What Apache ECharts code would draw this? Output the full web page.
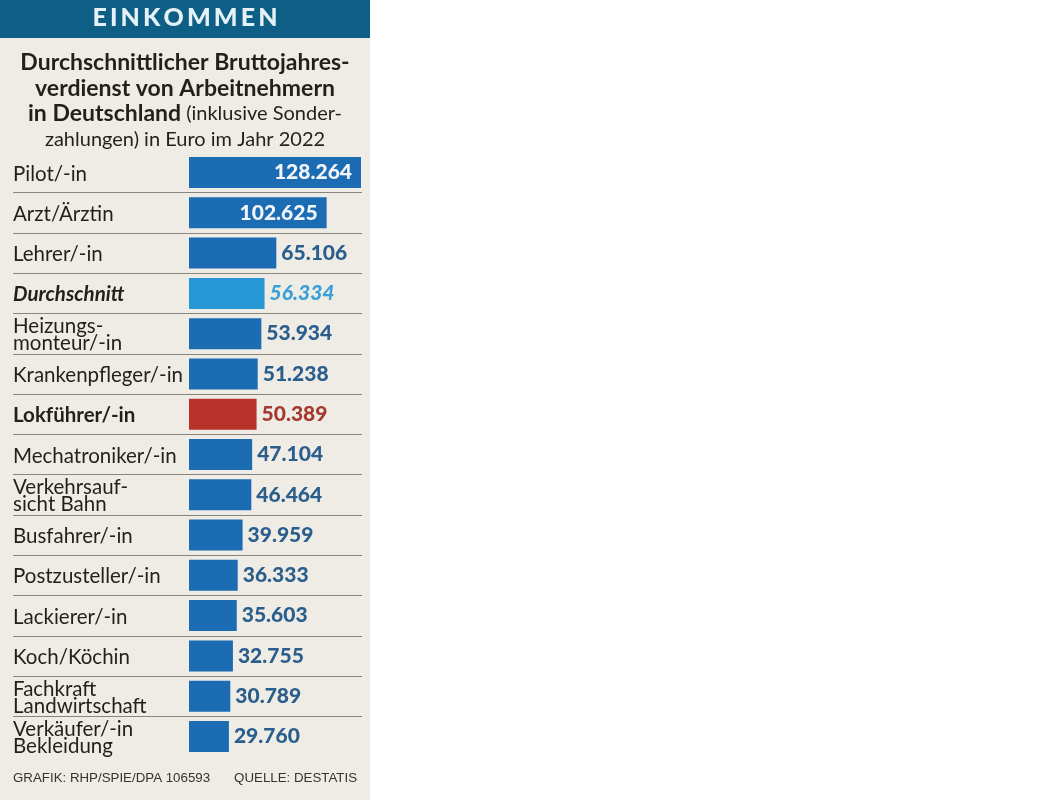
<!DOCTYPE html>
<html><head><meta charset="utf-8">
<script src="https://cdn.jsdelivr.net/npm/echarts@6/dist/echarts.min.js"></script>
<style>html,body{margin:0;padding:0;background:#fff;}#c{width:370px;height:800px;}</style>
</head><body><div id="c"></div>
<script>
const categories = ['Pilot/-in','Arzt/Ärztin','Lehrer/-in','Durchschnitt','Heizungs-\nmonteur/-in','Krankenpfleger/-in','Lokführer/-in','Mechatroniker/-in','Verkehrsauf-\nsicht Bahn','Busfahrer/-in','Postzusteller/-in','Lackierer/-in','Koch/Köchin','Fachkraft\nLandwirtschaft','Verkäufer/-in\nBekleidung'];
const values = [128264,102625,65106,56334,53934,51238,50389,47104,46464,39959,36333,35603,32755,30789,29760];
const headerText = 'EINKOMMEN';
const footerLeft = 'GRAFIK: RHP/SPIE/DPA 106593';
const footerRight = 'QUELLE: DESTATIS';

const FONT = 'Lato';
const avgName = 'Durchschnitt', lokName = 'Lokführer/-in';
const fmt = v => String(v).replace(/\B(?=(\d{3})+(?!\d))/g, '.');

const data = values.map((v, i) => {
  const name = categories[i];
  let color = '#1b6cb3', lblColor = '#2a5e8d', style = 'normal';
  if (name === avgName) { color = '#2597d4'; lblColor = '#3aa0d6'; style = 'italic'; }
  if (name === lokName) { color = '#b7322a'; lblColor = '#a5382f'; }
  const inside = v > 100000;
  return {
    value: v,
    itemStyle: { color },
    label: inside
      ? { position: 'insideRight', distance: 9, color: '#f2f6fa', fontStyle: style }
      : { position: 'right', distance: 5, color: lblColor, fontStyle: style }
  };
});

const chart = echarts.init(document.getElementById('c'));
const gridTop = 152.4, gridH = 604.2;
chart.setOption({
  backgroundColor: '#efebe5',
  animation: false,
  title: {
    left: 'center', top: 45,
    text: '{b|Durchschnittlicher Bruttojahres-}\n{b|verdienst von Arbeitnehmern}\n{b|in Deutschland} {r|(inklusive Sonder-}\n{r|zahlungen) in Euro im Jahr 2022}',
    textStyle: {
      rich: {
        b: { fontFamily: FONT, fontWeight: 'bold', fontSize: 23, color: '#231f1c', lineHeight: 25.5 },
        r: { fontFamily: FONT, fontWeight: 'normal', fontSize: 20, color: '#231f1c', lineHeight: 25.5 }
      }
    }
  },
  graphic: [
    { type: 'rect', left: 0, top: 0, shape: { width: 370, height: 38 }, style: { fill: '#0e5f86' }, z: 0 },
    { type: 'text', left: 'center', top: 5, style: { text: headerText.split('').join('\u2009'), fill: '#e4f2f8', font: '900 25px ' + FONT }, z: 1 },
    { type: 'text', left: 13, top: 772, style: { text: footerLeft, fill: '#333', font: '13.3px "Liberation Sans"' } },
    { type: 'text', right: 13, top: 772, style: { text: footerRight, fill: '#333', font: '13.3px "Liberation Sans"' } }
  ],
  grid: [
    { left: 189, width: 172, top: gridTop, height: gridH },
    { left: 13, width: 349, top: gridTop, height: gridH }
  ],
  xAxis: [
    { gridIndex: 0, type: 'value', min: 0, max: 128264, show: false },
    { gridIndex: 1, type: 'value', min: 0, max: 1, show: false }
  ],
  yAxis: [
    {
      gridIndex: 0, type: 'category', inverse: true, data: categories,
      axisLine: { show: false }, axisTick: { show: false }, splitLine: { show: false },
      axisLabel: {
        align: 'left', margin: 176, fontFamily: FONT, fontSize: 20.5, color: '#231f1c', lineHeight: 17,
        padding: [3, 0, 0, 0],
        formatter: v => v === avgName ? '{i|' + v + '}' : v === lokName ? '{b|' + v + '}' : v,
        rich: {
          i: { fontFamily: FONT, fontSize: 20.5, fontWeight: 'bold', fontStyle: 'italic', color: '#231f1c' },
          b: { fontFamily: FONT, fontSize: 20.5, fontWeight: 'bold', color: '#231f1c' }
        }
      }
    },
    {
      gridIndex: 1, type: 'category', inverse: true, data: categories,
      axisLine: { show: false }, axisTick: { show: false }, axisLabel: { show: false },
      splitLine: { show: true, showMinLine: false, showMaxLine: false, lineStyle: { color: '#88857f', width: 1.2 } }
    }
  ],
  series: [{
    type: 'bar', xAxisIndex: 0, yAxisIndex: 0, barWidth: 31, data,
    label: { show: true, fontFamily: FONT, fontWeight: 900, fontSize: 21, formatter: p => fmt(p.value) }
  }]
});
</script></body></html>
